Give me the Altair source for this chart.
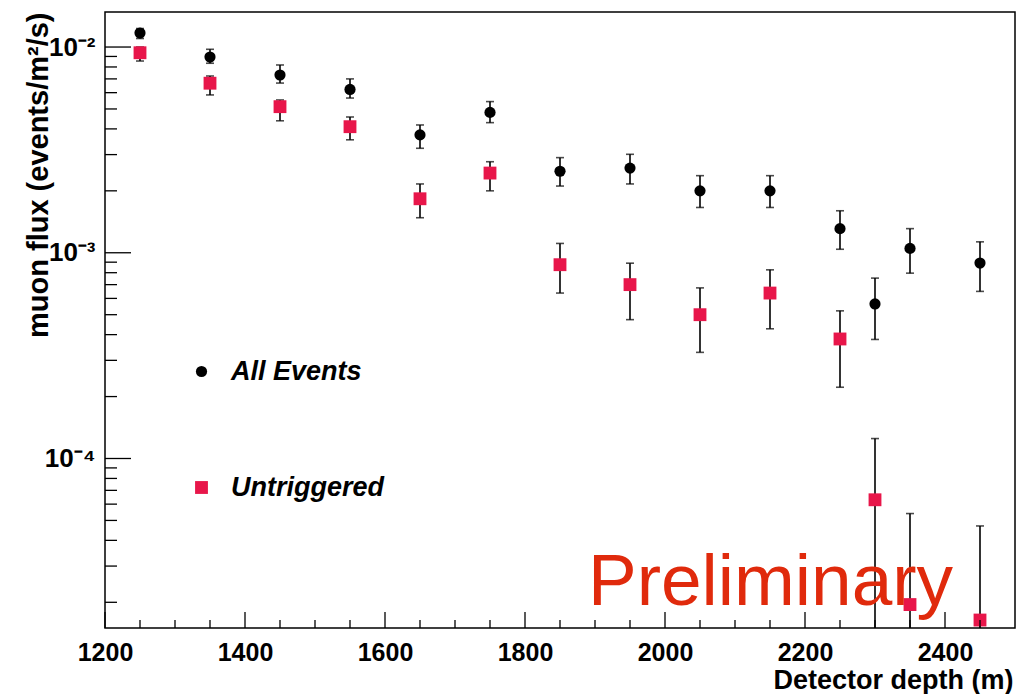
import altair as alt
import pandas as pd

# ---- data ----
depth_all = [1250, 1350, 1450, 1550, 1650, 1750, 1850, 1950, 2050, 2150, 2250, 2300, 2350, 2450]
flux_all = [0.0117, 0.00894, 0.00731, 0.00622, 0.00374, 0.00481, 0.00249, 0.00258, 0.00200, 0.00200, 0.00131, 0.000564, 0.00105, 0.000891]
hi_all = [0.0123, 0.00975, 0.00818, 0.00700, 0.00418, 0.00543, 0.00290, 0.00301, 0.00237, 0.00237, 0.00160, 0.000753, 0.00131, 0.00113]
lo_all = [0.0110, 0.00834, 0.00668, 0.00565, 0.00322, 0.00429, 0.00211, 0.00216, 0.00166, 0.00166, 0.00104, 0.000379, 0.000796, 0.000649]

depth_unt = [1250, 1350, 1450, 1550, 1650, 1750, 1850, 1950, 2050, 2150, 2250, 2300, 2350, 2450]
flux_unt = [0.00938, 0.00667, 0.00513, 0.00410, 0.00183, 0.00244, 0.000875, 0.000700, 0.000500, 0.000637, 0.000381, 6.3e-5, 1.95e-5, 1.64e-5]
hi_unt = [0.0100, 0.00723, 0.00553, 0.00457, 0.00216, 0.00277, 0.00111, 0.00089, 0.000675, 0.000826, 0.000522, 1.25e-4, 5.4e-5, 4.7e-5]
lo_unt = [0.00855, 0.00585, 0.00438, 0.00354, 0.00148, 0.00200, 0.000637, 0.000473, 0.000328, 0.000427, 0.000222, 1e-6, 1e-6, 1e-6]

series_names = ["All Events", "Untriggered"]
series_colors = ["#000000", "#e8164a"]
series_shapes = ["circle", "square"]
series_sizes = [125, 165]

x_labels = [1200, 1400, 1600, 1800, 2000, 2200, 2400]
x_minor = [v for v in range(1250, 2500, 50) if v not in x_labels]
y_labels = [1e-4, 1e-3, 1e-2]
y_label_text = ["10\u207b\u2074", "10\u207b\u00b3", "10\u207b\u00b2"]
y_minor = [m * 10.0 ** e for e in (-5, -4, -3, -2) for m in range(2, 10) if 1.5e-5 < m * 10.0 ** e < 1.48e-2]

x_domain = [1200, 2500]
y_domain = [1.5e-5, 1.48e-2]

W, H = 910, 616
FONT = "Liberation Sans"

rows = []
for name, d, f, h, l in [("All Events", depth_all, flux_all, hi_all, lo_all),
                         ("Untriggered", depth_unt, flux_unt, hi_unt, lo_unt)]:
    for i in range(len(d)):
        rows.append({"series": name, "depth": d[i], "flux": f[i], "hi": h[i], "lo": l[i]})
df = pd.DataFrame(rows)

xs = alt.Scale(domain=x_domain, nice=False, zero=False)
ys = alt.Scale(type="log", domain=y_domain, nice=False)

label_expr = " : ".join(
    [f"abs(datum.value - {v}) < {v}*0.01 ? '{t}'" for v, t in zip(y_labels, y_label_text)]
) + " : ''"

x_axis = alt.Axis(values=x_labels, format="d", ticks=False, domain=False, grid=False,
                  labelFont=FONT, labelFontWeight="bold", labelFontSize=25, labelColor="black",
                  labelPadding=12, labelFlush=False,
                  title="Detector depth (m)", titleFont=FONT, titleFontWeight="bold", titleFontSize=27,
                  titleColor="black", titleAnchor="end", titleAlign="right", titleX=W - 2, titleY=60,
                  titleBaseline="alphabetic")
y_axis = alt.Axis(values=y_labels, labelExpr=label_expr, ticks=False, domain=False, grid=False,
                  labelFont=FONT, labelFontWeight="bold", labelFontSize=26, labelColor="black",
                  labelPadding=10, labelBaseline="middle",
                  title="muon flux (events/m\u00b2/s)", titleFont=FONT, titleFontWeight="bold",
                  titleFontSize=29, titleColor="black", titleAlign="right", titleAngle=270,
                  titleX=-67, titleY=0, titleBaseline="middle")

base = alt.Chart(df)

err = base.mark_rule(color="black", strokeWidth=1.6, clip=True).encode(
    x=alt.X("depth:Q", scale=xs, axis=x_axis),
    y=alt.Y("lo:Q", scale=ys, axis=y_axis),
    y2="hi:Q",
)
cap_hi = base.mark_tick(orient="horizontal", size=8, thickness=1.6, color="black", clip=True).encode(
    x=alt.X("depth:Q", scale=xs, axis=x_axis), y=alt.Y("hi:Q", scale=ys, axis=y_axis))
cap_lo = base.mark_tick(orient="horizontal", size=8, thickness=1.6, color="black", clip=True).encode(
    x=alt.X("depth:Q", scale=xs, axis=x_axis), y=alt.Y("lo:Q", scale=ys, axis=y_axis))

leg = dict(title=None, orient="none", legendX=83, legendY=346, padding=0,
           labelFont=FONT, labelFontStyle="italic", labelFontWeight="bold", labelFontSize=27,
           labelColor="black", labelOffset=16, rowPadding=88, symbolSize=70, symbolStrokeWidth=0)

pts = base.mark_point(filled=True, opacity=1, strokeWidth=0, clip=True).encode(
    x=alt.X("depth:Q", scale=xs, axis=x_axis),
    y=alt.Y("flux:Q", scale=ys, axis=y_axis),
    color=alt.Color("series:N", scale=alt.Scale(domain=series_names, range=series_colors), legend=alt.Legend(**leg)),
    shape=alt.Shape("series:N", scale=alt.Scale(domain=series_names, range=series_shapes), legend=alt.Legend(**leg)),
    size=alt.Size("series:N", scale=alt.Scale(domain=series_names, range=series_sizes), legend=None),
)

xt_major = alt.Chart(pd.DataFrame({"v": x_labels})).mark_rule(color="black", strokeWidth=1.3).encode(
    x=alt.X("v:Q", scale=xs, axis=x_axis), y=alt.value(H), y2=alt.value(H - 16))
xt_minor = alt.Chart(pd.DataFrame({"v": x_minor})).mark_rule(color="black", strokeWidth=1.3).encode(
    x=alt.X("v:Q", scale=xs, axis=x_axis), y=alt.value(H), y2=alt.value(H - 8))
yt_major = alt.Chart(pd.DataFrame({"v": y_labels})).mark_rule(color="black", strokeWidth=1.3).encode(
    y=alt.Y("v:Q", scale=ys, axis=y_axis), x=alt.value(0), x2=alt.value(26))
yt_minor = alt.Chart(pd.DataFrame({"v": y_minor})).mark_rule(color="black", strokeWidth=1.3).encode(
    y=alt.Y("v:Q", scale=ys, axis=y_axis), x=alt.value(0), x2=alt.value(12))

prelim = alt.Chart(pd.DataFrame({"t": ["Preliminary"]})).mark_text(
    align="left", baseline="alphabetic", font=FONT, fontSize=73, color="#e02a0c"
).encode(text="t:N", x=alt.value(483), y=alt.value(593))

chart = alt.layer(err, cap_hi, cap_lo, pts, xt_major, xt_minor, yt_major, yt_minor, prelim).properties(
    width=W, height=H,
    padding={"left": 105, "top": 12, "right": 8, "bottom": 66},
    autosize=alt.AutoSizeParams(type="none"),
    background="white",
).configure_view(stroke="black", strokeWidth=1.5)

chart.save("out.html", embed_options={"renderer": "svg", "actions": False})
